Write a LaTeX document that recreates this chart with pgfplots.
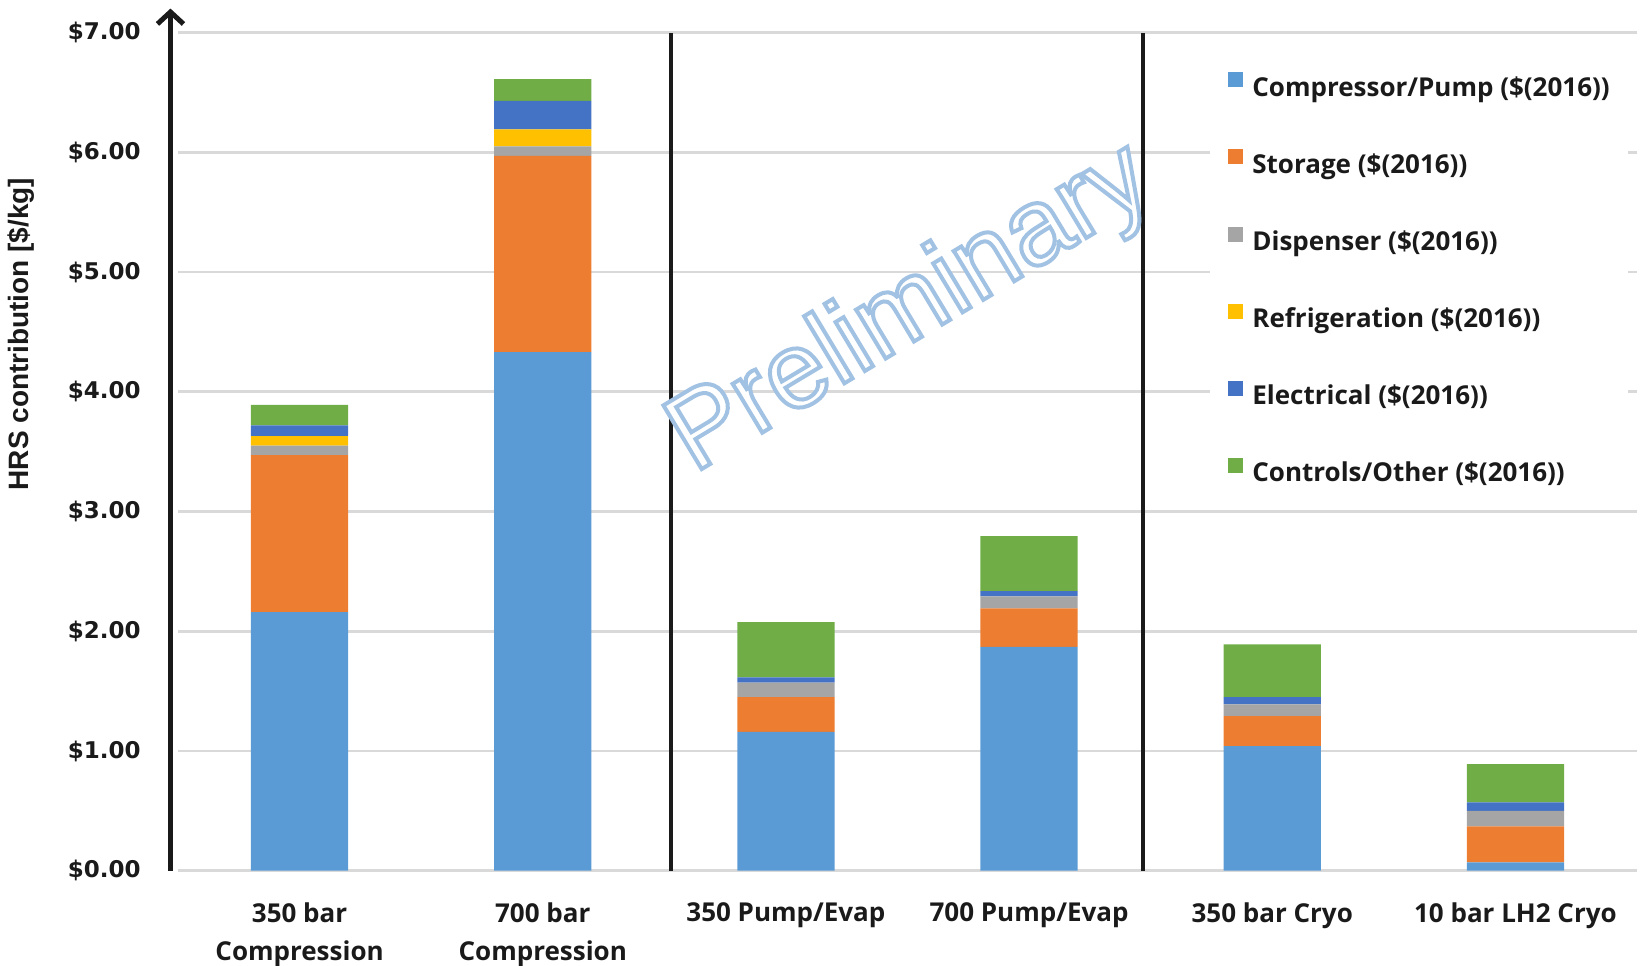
\documentclass[border=0pt]{standalone}
\usepackage{fontspec}
\usepackage{pgfplots}
\pgfplotsset{compat=1.18}
\usetikzlibrary{arrows.meta}
\setmainfont{Open Sans}
\newfontfamily\tickfont{DejaVu Sans}
\newfontfamily\labfont{Liberation Sans}
\definecolor{cComp}{HTML}{5B9BD5}
\definecolor{cStor}{HTML}{ED7D31}
\definecolor{cDisp}{HTML}{A5A5A5}
\definecolor{cRefr}{HTML}{FFC000}
\definecolor{cElec}{HTML}{4472C4}
\definecolor{cCtrl}{HTML}{70AD47}
\definecolor{gridc}{HTML}{D9D9D9}
\definecolor{txt}{HTML}{1A1A1A}
\begin{document}
\begin{tikzpicture}
\useasboundingbox (0,0) rectangle (821.5pt,482.5pt);
\begin{axis}[
  at={(89pt,47.15pt)}, anchor=south west,
  scale only axis, width=729.5pt, height=419.1pt,
  ybar stacked, bar width=0.4,
  xmin=-0.5, xmax=5.5, ymin=0, ymax=7,
  clip=false,
  axis line style={draw=none},
  major tick length=0pt,
  ymajorgrids, grid style={draw=gridc, line width=1.3pt},
  xtick={0,1,2,3,4,5},
  xticklabels={{350 bar\\Compression},{700 bar\\Compression},{350 Pump/Evap},{700 Pump/Evap},{350 bar Cryo},{10 bar LH2 Cryo}},
  xticklabel style={font=\bfseries\fontsize{13}{19}\selectfont, align=center, inner sep=0pt, yshift=-15.6pt, text=txt},
  ytick={0,1,2,3,4,5,6,7},
  yticklabels={\$0.00,\$1.00,\$2.00,\$3.00,\$4.00,\$5.00,\$6.00,\$7.00},
  yticklabel style={font=\tickfont\bfseries\fontsize{11.5}{13}\selectfont, inner sep=0pt, xshift=-18.5pt, text=txt},
  ylabel={HRS contribution [\$/kg]},
  ylabel style={at={(axis description cs:-0.1076,0.6403)}, anchor=center, font=\labfont\bfseries\fontsize{14}{16}\selectfont, text=txt},
  legend style={at={(axis description cs:0.7073,0.972)}, anchor=north west, draw=none, fill=white,
    inner xsep=9pt, inner ysep=8pt, row sep=23.7pt,
    font=\bfseries\fontsize{13}{15}\selectfont, text=txt,
    nodes={inner sep=0pt, text height=10pt, text depth=3pt},
    /tikz/every odd column/.style={column sep=4.5pt}},
  legend cell align=left,
  legend image code/.code={\fill[#1] (0pt,0.85pt) rectangle (7.5pt,8.35pt);},
]
\addplot[fill=cComp, draw=none] coordinates {(0,2.16) (1,4.33) (2,1.16) (3,1.87) (4,1.04) (5,0.07)};
\addplot[fill=cStor, draw=none] coordinates {(0,1.31) (1,1.64) (2,0.29) (3,0.32) (4,0.25) (5,0.30)};
\addplot[fill=cDisp, draw=none] coordinates {(0,0.08) (1,0.08) (2,0.12) (3,0.10) (4,0.10) (5,0.13)};
\addplot[fill=cRefr, draw=none] coordinates {(0,0.08) (1,0.14) (2,0) (3,0) (4,0) (5,0)};
\addplot[fill=cElec, draw=none] coordinates {(0,0.09) (1,0.24) (2,0.045) (3,0.045) (4,0.06) (5,0.07)};
\addplot[fill=cCtrl, draw=none] coordinates {(0,0.17) (1,0.18) (2,0.46) (3,0.46) (4,0.44) (5,0.32)};
\legend{Compressor/Pump (\$(2016)),Storage (\$(2016)),Dispenser (\$(2016)),Refrigeration (\$(2016)),Electrical (\$(2016)),Controls/Other (\$(2016))}
\draw[line width=2.3pt, color=txt] (axis cs:1.527,0) -- (axis cs:1.527,7);
\draw[line width=2.3pt, color=txt] (axis cs:3.468,0) -- (axis cs:3.468,7);
\draw[line width=2.5pt, color=txt, -{Straight Barb[length=6pt,width=13pt,line width=2.5pt]}] (axis cs:-0.531,0) -- (axis cs:-0.531,7.2);
\end{axis}
\node[rotate=31, font=\labfont\fontsize{54}{54}\selectfont, inner sep=0pt] at (455.6pt,327.2pt)
  {\color{white}\special{pdf:code q 2 Tr 2 w 0.63 0.76 0.89 RG 1 1 1 rg}Preliminary\special{pdf:code Q}};
\end{tikzpicture}
\end{document}
